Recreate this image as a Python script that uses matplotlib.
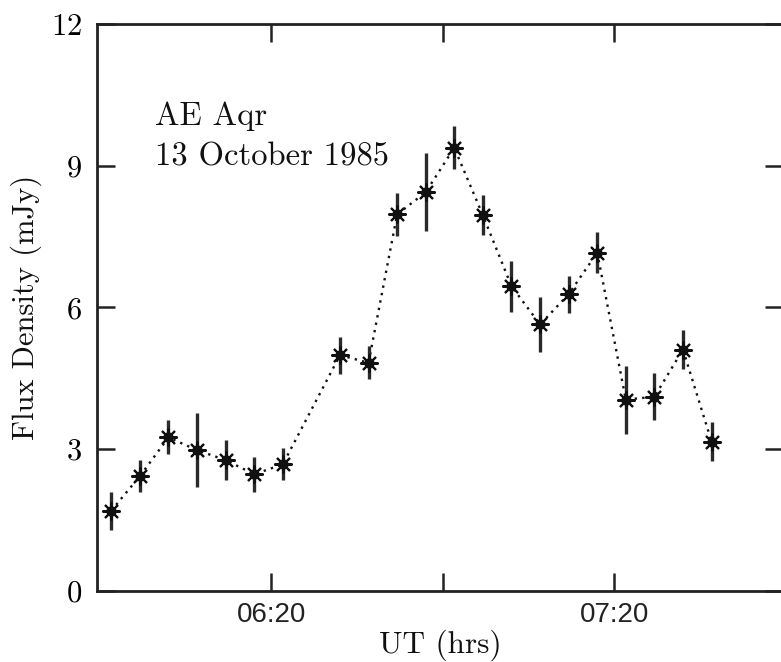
import matplotlib
matplotlib.use("Agg")
import matplotlib.pyplot as plt
from matplotlib.ticker import FixedLocator, FuncFormatter

plt.rcParams['font.family'] = ['cmr10', 'DejaVu Serif']
plt.rcParams['axes.formatter.use_mathtext'] = True

# UT in minutes after midnight
ut_min = [352, 357, 362, 367, 372, 377, 382, 392, 397, 402, 407,
          412, 417, 422, 427, 432, 437, 442, 447, 452, 457]
flux = [1.70, 2.43, 3.25, 2.98, 2.77, 2.47, 2.68, 4.99, 4.83, 7.97, 8.44,
        9.38, 7.95, 6.45, 5.64, 6.28, 7.16, 4.05, 4.11, 5.11, 3.16]
flux_err = [0.40, 0.34, 0.36, 0.79, 0.43, 0.37, 0.34, 0.39, 0.35, 0.46, 0.83,
            0.45, 0.42, 0.54, 0.58, 0.39, 0.44, 0.72, 0.50, 0.42, 0.41]

major_ticks = [380, 440]
minor_ticks = [410]
y_ticks = [0, 3, 6, 9, 12]

fig = plt.figure(figsize=(7.81, 6.62), dpi=100)
ax = fig.add_axes([0.1242, 0.1073, 0.8784, 0.8565])

ink = '#111111'

ax.errorbar(ut_min, flux, yerr=flux_err, fmt='none', ecolor='#2a2a2a',
            elinewidth=2.4, capsize=0, zorder=2)
ax.plot(ut_min, flux, color=ink, linestyle=(0, (1, 2.2)), linewidth=1.7,
        zorder=1)
ax.plot(ut_min, flux, linestyle='none', marker=(8, 2, 0), markersize=13,
        markeredgewidth=1.5, color=ink, zorder=3)
ax.plot(ut_min, flux, linestyle='none', marker='o', markersize=6.5,
        color=ink, zorder=4)

ax.set_xlim(349.5, 469.5)
ax.set_ylim(0, 12)

ax.xaxis.set_major_locator(FixedLocator(major_ticks))
ax.xaxis.set_minor_locator(FixedLocator(minor_ticks))
ax.xaxis.set_major_formatter(FuncFormatter(lambda m, p: f"{int(m) // 60:02d}:{int(m) % 60:02d}"))
ax.set_yticks(y_ticks)

ax.tick_params(axis='both', which='both', direction='in', top=True, right=True,
               length=13, width=1.8, color='#222222')
ax.tick_params(axis='x', which='major', labelsize=20, pad=8)
ax.tick_params(axis='y', which='major', labelsize=22, pad=11)
for lab in ax.get_xticklabels():
    lab.set_family(['Liberation Sans', 'DejaVu Sans'])
    lab.set_color('#222222')

for s in ax.spines.values():
    s.set_linewidth(2.0)
    s.set_color('#222222')

ax.set_xlabel("UT (hrs)", fontsize=22.5, labelpad=1, color=ink)
ax.set_ylabel("Flux Density (mJy)", fontsize=22, labelpad=6, color=ink)

ax.text(0.0845, 0.822, "AE Aqr", transform=ax.transAxes, fontsize=23.5,
        va='baseline', ha='left', color=ink)
ax.text(0.0845, 0.751, "13 October 1985", transform=ax.transAxes, fontsize=23.5,
        va='baseline', ha='left', color=ink)

fig.savefig("out.png", dpi=100)
